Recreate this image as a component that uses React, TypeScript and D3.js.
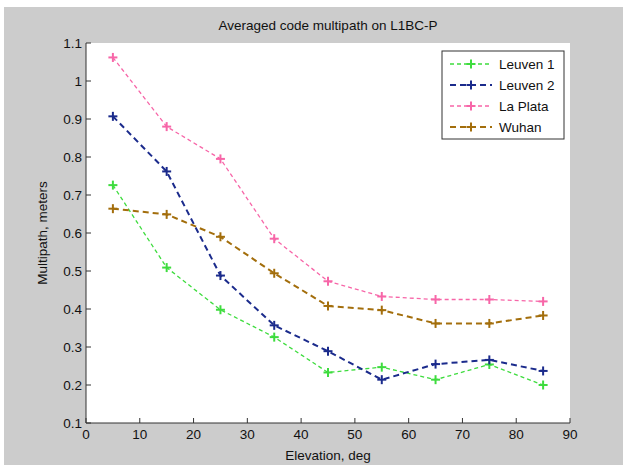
import React from "react";
import * as d3 from "d3";

const elevations = [5, 15, 25, 35, 45, 55, 65, 75, 85];
const leuven1 = [0.726, 0.509, 0.398, 0.326, 0.233, 0.247, 0.214, 0.254, 0.2];
const leuven2 = [0.907, 0.762, 0.488, 0.357, 0.289, 0.214, 0.255, 0.266, 0.237];
const laPlata = [1.062, 0.88, 0.795, 0.585, 0.473, 0.433, 0.425, 0.425, 0.42];
const wuhan = [0.664, 0.649, 0.59, 0.494, 0.408, 0.397, 0.362, 0.362, 0.383];
const seriesNames = ["Leuven 1", "Leuven 2", "La Plata", "Wuhan"];
const xTicks = [0, 10, 20, 30, 40, 50, 60, 70, 80, 90];
const yTicks = [0.1, 0.2, 0.3, 0.4, 0.5, 0.6, 0.7, 0.8, 0.9, 1, 1.1];

const W = 623;
const H = 470;
const left = 86, right = 570, top = 43, bottom = 423;
const font = "Arial, 'Liberation Sans', Helvetica, sans-serif";
const fs = 13.5;

export default function App() {
  const x = d3.scaleLinear().domain([0, 90]).range([left, right]);
  const y = d3.scaleLinear().domain([0.1, 1.1]).range([bottom, top]);
  const line = d3.line<number>().x((_, i) => x(elevations[i])).y((d) => y(d));

  const series = [
    { name: seriesNames[0], data: leuven1, color: "#3edc3e", width: 1.3, dash: "4,3" },
    { name: seriesNames[1], data: leuven2, color: "#1b2b8c", width: 2, dash: "6,4" },
    { name: seriesNames[2], data: laPlata, color: "#f766a8", width: 1.3, dash: "4,3" },
    { name: seriesNames[3], data: wuhan, color: "#a36e0c", width: 2, dash: "6,4" },
  ];

  const plus = (cx: number, cy: number, color: string, key: string, s = 4.5) => (
    <g key={key} stroke={color} strokeWidth={2}>
      <line x1={cx - s} x2={cx + s} y1={cy} y2={cy} />
      <line x1={cx} x2={cx} y1={cy - s} y2={cy + s} />
    </g>
  );

  const lgX = 442, lgY = 51, lgW = 122, lgH = 88;

  return (
    <svg width={W} height={H} style={{ position: "absolute", left: 0, top: 0 }} fontFamily={font}>
      <rect x={0} y={0} width={W} height={H} fill="#ffffff" />
      <rect x={4} y={7} width={W - 4} height={458} fill="#cccccc" />
      <rect x={left} y={top} width={right - left} height={bottom - top} fill="#ffffff" />

      <text x={(left + right) / 2} y={30} textAnchor="middle" fontSize={fs} fill="#111">
        Averaged code multipath on L1BC-P
      </text>

      {series.map((s) => (
        <g key={s.name}>
          <path d={line(s.data) || ""} fill="none" stroke={s.color} strokeWidth={s.width} strokeDasharray={s.dash} />
          {s.data.map((v, i) => plus(x(elevations[i]), y(v), s.color, s.name + i))}
        </g>
      ))}

      {/* axes */}
      <g stroke="#333" strokeWidth={1} fill="none">
        <line x1={left} x2={left} y1={top} y2={bottom} />
        <line x1={left} x2={right} y1={bottom} y2={bottom} />
        {yTicks.map((t) => (
          <line key={"yt" + t} x1={left} x2={left + 5} y1={y(t)} y2={y(t)} />
        ))}
        {xTicks.map((t) => (
          <line key={"xt" + t} x1={x(t)} x2={x(t)} y1={bottom} y2={bottom - 5} />
        ))}
      </g>
      {yTicks.map((t) => (
        <text key={"yl" + t} x={left - 4} y={y(t)} dy="0.35em" textAnchor="end" fontSize={fs} fill="#111">
          {d3.format("~g")(t)}
        </text>
      ))}
      {xTicks.map((t) => (
        <text key={"xl" + t} x={x(t)} y={bottom + 16} textAnchor="middle" fontSize={fs} fill="#111">
          {t}
        </text>
      ))}
      <text x={(left + right) / 2} y={460} textAnchor="middle" fontSize={fs} fill="#111">
        Elevation, deg
      </text>
      <text transform={`translate(47,${(top + bottom) / 2}) rotate(-90)`} textAnchor="middle" fontSize={fs} fill="#111">
        Multipath, meters
      </text>

      {/* legend */}
      <rect x={lgX} y={lgY} width={lgW} height={lgH} fill="#ffffff" stroke="#333" strokeWidth={1} />
      {series.map((s, i) => {
        const ly = 64 + i * 21;
        return (
          <g key={"lg" + s.name}>
            <line x1={450} x2={492} y1={ly} y2={ly} stroke={s.color} strokeWidth={s.width} strokeDasharray={s.dash} />
            {plus(471, ly, s.color, "lgp" + i)}
            <text x={499} y={ly} dy="0.35em" fontSize={fs} fill="#111">
              {s.name}
            </text>
          </g>
        );
      })}
    </svg>
  );
}
